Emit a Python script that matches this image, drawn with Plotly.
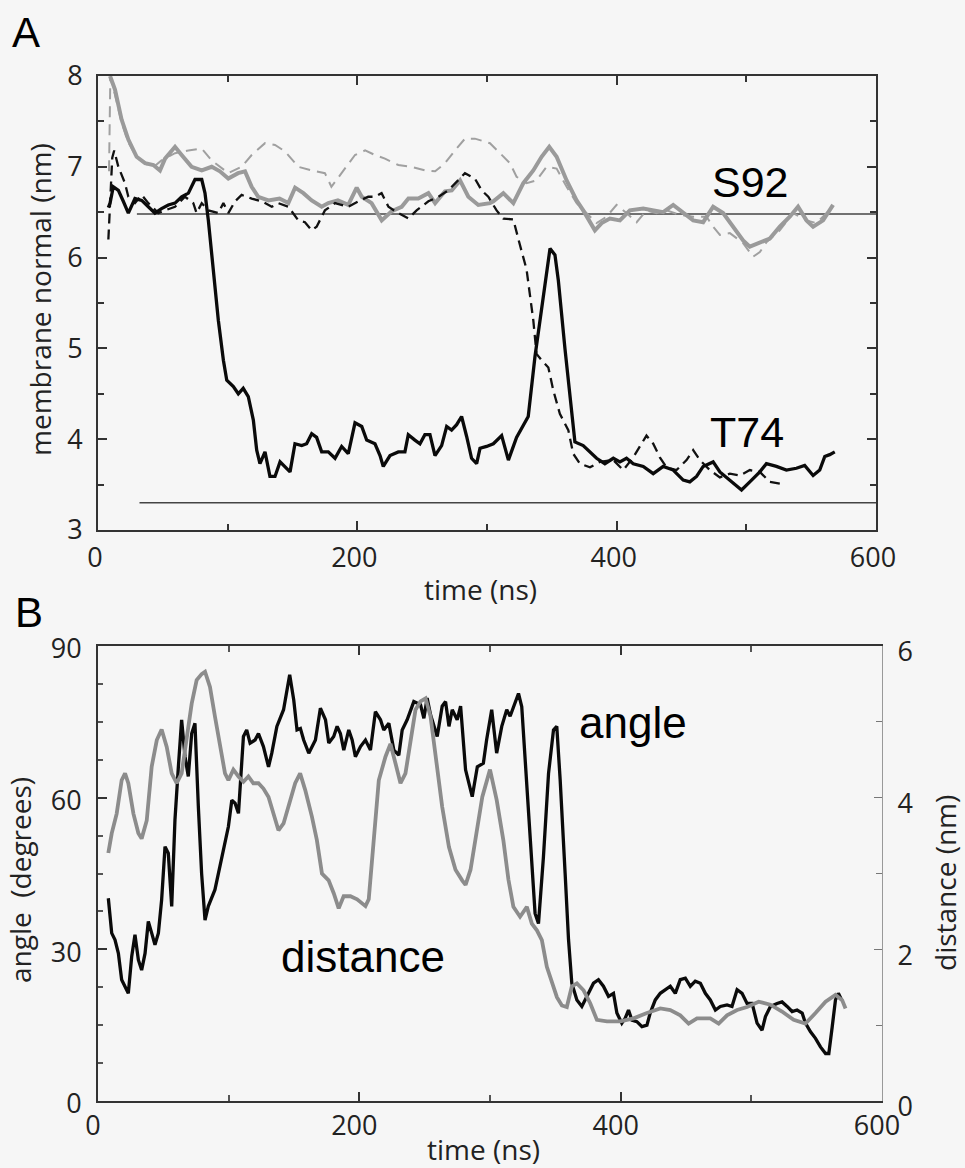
import plotly.graph_objects as go

W, H = 965, 1168

# ---------------- Panel A data (time ns, membrane normal nm) ----------------
s92_solid_t = [9.3, 13.1, 18.2, 23.4, 29.8, 36.3, 42.7, 47.8, 51.7, 59.4, 64.5, 72.2, 80, 87.7, 94, 100.5,
               108, 113.4, 118.5, 123.6, 131.4, 140, 146.8, 152, 158.4, 164.8, 172.5, 177.6, 185, 193,
               199.5, 203.4, 211, 218.8, 226.5, 234.2, 239.4, 247, 254.8, 260, 267.6, 272.8, 279.2, 285.6,
               293.3, 302.3, 304.9, 312.6, 320.3, 328, 335.7, 342.1, 348, 353.7, 361.4, 369.1, 374.2,
               379.4, 383.2, 388.4, 394.8, 402.5, 410.2, 420.5, 428.2, 435.9, 443.6, 451.3, 459, 466.7,
               474.4, 482.1, 489.8, 497.5, 502.7, 510.4, 518.1, 525.8, 533.5, 539.9, 546.4, 551.5, 559.2,
               566.9]
s92_solid_v = [8.0, 7.85, 7.52, 7.3, 7.11, 7.04, 7.02, 6.96, 7.09, 7.22, 7.13, 7.0, 6.96, 7.0, 6.95, 6.87,
               6.93, 6.95, 6.78, 6.67, 6.63, 6.65, 6.6, 6.77, 6.71, 6.63, 6.56, 6.6, 6.63, 6.58,
               6.77, 6.67, 6.6, 6.41, 6.51, 6.56, 6.65, 6.65, 6.71, 6.6, 6.73, 6.74, 6.85, 6.67,
               6.58, 6.6, 6.62, 6.71, 6.6, 6.82, 6.96, 7.11, 7.22, 7.11, 6.85, 6.63, 6.52,
               6.38, 6.3, 6.38, 6.43, 6.41, 6.52, 6.54, 6.52, 6.5, 6.58, 6.49, 6.41, 6.39,
               6.56, 6.49, 6.34, 6.19, 6.12, 6.17, 6.21, 6.34, 6.45, 6.56, 6.41, 6.34, 6.41,
               6.58]

s92_dash_t = [8.5, 9.5, 13, 18, 23, 30, 37, 43, 49, 59.4, 69.7, 80, 87.7, 100.5, 110.8, 118.5, 128.8,
              136.5, 144.2, 154.5, 164.8, 175, 180, 188, 198.2, 206, 213.6, 221.3, 231.6, 241.9, 252.2,
              260, 267.6, 275.3, 283, 290.7, 298.5, 302.3, 310, 317.7, 322.8, 330.5, 338.2, 345.9, 353.7,
              361.4, 369.1, 376.8, 384.5, 392.2, 399.9, 407.6, 415.4, 423, 430.8, 438.5, 448.8, 459,
              469.3, 474.4, 479.6, 487.3, 497.5, 505.2, 510.4, 515.5, 525.8, 536.1, 546.4, 554.1,
              561.8, 566.9]
s92_dash_v = [6.95, 7.98, 7.8, 7.5, 7.28, 7.1, 7.03, 7.0, 7.07, 7.15, 7.18, 7.2, 7.07, 6.93, 7.0, 7.13,
              7.26, 7.24, 7.17, 7.0, 6.96, 6.93, 6.78, 6.93, 7.13, 7.18, 7.13, 7.09, 7.02, 7.0, 6.96,
              6.95, 7.04, 7.18, 7.31, 7.31, 7.28, 7.26, 7.15, 7.04, 6.89, 6.82, 6.85, 7.0, 6.98,
              6.78, 6.6, 6.49, 6.38, 6.45, 6.58, 6.49, 6.39, 6.52, 6.49, 6.52, 6.47, 6.45,
              6.45, 6.34, 6.25, 6.27, 6.16, 6.01, 6.06, 6.17, 6.3, 6.49, 6.41, 6.38,
              6.49, 6.56]

t74_solid_t = [8, 9.3, 11.8, 15.7, 19.5, 23.4, 28.5, 33.7, 38.8, 43.9, 49, 54.2, 59.4, 64.5, 69.7, 74.8,
               80, 82.5, 85.1, 89, 92.8, 96.7, 99.3, 104.4, 108.2, 112, 115.9, 119.8, 122.4, 124.9,
               128.8, 132.6, 136.5, 140.4, 144.2, 148.1, 151.9, 157.1, 160.9, 164.8, 168.6, 172.5,
               177.6, 182.8, 187.9, 193, 198.2, 203.4, 207.2, 213.6, 217.5, 220, 225.2, 231.6, 236.7,
               239.3, 244.4, 248.3, 252.1, 256, 259.9, 265, 268.9, 272.7, 276.6, 280.4, 284.3, 288.1,
               292, 294.6, 299.7, 304.9, 311.3, 316.5, 322.8, 331.8, 337, 342.1, 346, 348.6, 352.4,
               355, 360.1, 367.8, 374.2, 379.4, 384.5, 390.9, 397.4, 402.5, 407.6, 412.8, 420.5,
               428.2, 435.9, 443.6, 451.3, 456.4, 461.6, 466.7, 474.4, 479.6, 487.3, 496.3, 502.7,
               510.4, 515.5, 523.2, 530.9, 538.6, 545, 551.5, 556.6, 560.5, 564.3, 568.2]
t74_solid_v = [6.55, 6.6, 6.78, 6.74, 6.62, 6.49, 6.65, 6.63, 6.56, 6.49, 6.54, 6.58, 6.6, 6.67, 6.71, 6.86,
               6.86, 6.71, 6.41, 5.86, 5.31, 4.87, 4.65, 4.58, 4.5, 4.56, 4.47, 4.21, 3.88, 3.73,
               3.86, 3.59, 3.59, 3.75, 3.69, 3.64, 3.95, 3.93, 3.95, 4.06, 4.02, 3.86,
               3.86, 3.79, 3.92, 3.84, 4.18, 4.14, 3.99, 3.95, 3.82, 3.7, 3.82, 3.86, 3.86,
               4.05, 3.99, 3.95, 4.05, 4.05, 3.82, 3.93, 4.14, 4.1, 4.16, 4.25, 4.03, 3.79,
               3.73, 3.9, 3.92, 3.95, 4.04, 3.77, 4.02, 4.25, 4.91, 5.46, 5.85, 6.1, 6.03,
               5.75, 5.0, 3.97, 3.93, 3.86, 3.79, 3.73, 3.79, 3.75, 3.79, 3.73, 3.7,
               3.62, 3.7, 3.66, 3.55, 3.53, 3.59, 3.7, 3.75, 3.64, 3.55, 3.44, 3.53,
               3.64, 3.73, 3.7, 3.66, 3.68, 3.71, 3.6, 3.66, 3.81, 3.83, 3.86]

t74_dash_t = [8, 11, 12.5, 15.7, 20.8, 23.4, 28.5, 33.7, 38.8, 46.5, 51.7, 59.4, 67.1, 73.5, 76, 80, 85.1,
              92.8, 96.7, 100.5, 105.7, 110.8, 118.5, 126.2, 134, 139, 146.8, 154.5, 159.6, 164.8, 168.6,
              175, 182.8, 193, 200.7, 208.4, 213.6, 218.7, 224, 231.6, 239.4, 245.7, 254.8, 262.5, 270.2,
              277.9, 283, 290.7, 295.9, 301, 307.4, 312.6, 320.3, 325, 330.5, 335.7, 338.2, 342.1,
              347.3, 351.1, 356.2, 362.7, 366.5, 371.7, 379.4, 387.1, 397.4, 405.1, 412.8, 417.9, 423,
              428.2, 433.3, 438.5, 446.2, 453.9, 459, 464.2, 471.9, 479.6, 487.3, 495, 502.7, 510.4,
              518.1, 525.8]
t74_dash_v = [6.2, 7.1, 7.18, 7.0, 6.82, 6.67, 6.6, 6.69, 6.6, 6.49, 6.52, 6.56, 6.67, 6.6, 6.49, 6.6, 6.52,
              6.49, 6.6, 6.49, 6.62, 6.69, 6.65, 6.62, 6.56, 6.6, 6.56, 6.41, 6.39, 6.3, 6.34,
              6.52, 6.6, 6.56, 6.62, 6.67, 6.67, 6.71, 6.56, 6.49, 6.43, 6.52, 6.62, 6.67, 6.74,
              6.85, 6.93, 6.87, 6.74, 6.67, 6.52, 6.43, 6.42, 6.16, 5.87, 5.31, 4.94, 4.87,
              4.79, 4.54, 4.28, 4.1, 3.84, 3.73, 3.69, 3.75, 3.77, 3.66, 3.8, 3.92, 4.04,
              3.95, 3.8, 3.69, 3.66, 3.77, 3.88, 3.77, 3.66, 3.58, 3.62, 3.6, 3.66, 3.64,
              3.53, 3.51]

ref_s92_t = [30, 600]
ref_s92_v = [6.48, 6.48]
ref_t74_t = [32, 600]
ref_t74_v = [3.3, 3.3]

# ---------------- Panel B data ----------------
angle_t = [7.9, 10.5, 13, 15.6, 18.1, 21.9, 23.2, 25.8, 28.3, 30.9, 33.4, 36, 38.5, 41.1, 43.6, 46.2, 48.7,
           51.3, 53.8, 56.4, 58.9, 61.5, 64, 66.6, 69.1, 71.7, 74.2, 76.8, 79.3, 81.9, 84.4, 89.5, 93.4,
           97.2, 99.8, 102.4, 104.9, 107.5, 108.7, 111.3, 113.8, 116.4, 120.2, 122.8, 126.6, 130.5, 133,
           136.9, 142, 144.6, 146.7, 149.8, 152.3, 154.9, 157.4, 161.3, 166.4, 170.2, 174.1, 176.6,
           180.4, 183, 185.5, 188.1, 191.9, 194.5, 197, 200.9, 204.7, 208.5, 212.3, 216.2, 218.7,
           222.6, 226.4, 230.2, 232.8, 236.6, 241.7, 246.8, 249.4, 251.9, 254.5, 259.6, 263.4, 266,
           268.6, 271.1, 274.9, 277.5, 281.3, 286.4, 290.3, 294.9, 297.4, 301.3, 305.1, 309, 312.8,
           315.4, 317.9, 321.8, 324.3, 326.9, 330.7, 334.5, 337.1, 340.9, 344.8, 348.6, 351.1, 353.7,
           357.5, 360.1, 362.6, 366.5, 370.3, 374.1, 379.2, 383, 386.8, 390.7, 394.5, 397.1, 400.9,
           403.5, 406, 408.6, 412.4, 416.3, 420.1, 422.6, 426.5, 430.3, 434.1, 438, 441.8, 445.6,
           449.5, 453.3, 457.1, 461, 464.8, 468.6, 472.5, 476.3, 481.4, 485.2, 489.1, 492.9, 496.7,
           500.6, 504.4, 508.2, 510.8, 514.6, 519.7, 523.5, 527.4, 531.2, 535, 538.9, 541.4, 545.3,
           549.1, 552.9, 556.8, 559.3, 561.9, 564.4, 566.6, 569.1]
angle_deg = [40.1, 33.2, 31.9, 29.2, 24, 22, 21.3, 28.6, 32.9, 27.9, 25.9, 29.2, 35.5, 33.2, 30.9, 33.2, 39.8,
             50.3, 49, 38.5, 55.6, 66.1, 75.4, 68.1, 64.2, 72.7, 74.7, 58.2, 45, 35.8, 38.5, 41.8, 46.4,
             51.6, 54.3, 59.5, 58.9, 56.9, 62.2, 72.1, 73.4, 70.8, 71.4, 72.7, 70.1, 66.1, 68.8,
             74.1, 77.4, 81.3, 84.3, 79.3, 73.4, 73.7, 71.4, 68.8, 71.4, 77.7, 75.4, 70.8,
             72.1, 74.1, 72.7, 69.4, 73.4, 71.4, 68.1, 70.1, 71.4, 69.4, 77, 75.4, 73.4,
             74.7, 69.4, 68.4, 73.4, 75.4, 79, 78.4, 75.7, 79.7, 76.4, 72.1, 78.1, 79,
             74.1, 77.4, 75.4, 78.1, 65.5, 60.2, 66.1, 66.8, 71.4, 77.4, 68.8, 74.1, 77.4,
             76.1, 77.7, 80.6, 78, 68.1, 51.6, 37.1, 35.1, 48.3, 64.8, 73.4, 74.1, 63.5,
             45, 31.9, 23.3, 20, 18.7, 20.7, 23.3, 24, 22.7, 20.7, 21.3, 17.4, 15.4,
             16.4, 18, 16, 15.7, 14.7, 15, 17.4, 20, 21.3, 22, 22.7, 21.3, 24,
             24.3, 22.7, 23.7, 23.3, 21.3, 20, 18, 18.7, 19, 18.7, 22, 21.3, 19.3,
             19.3, 15.4, 14, 16.7, 18.7, 19.3, 19.6, 18.7, 17.7, 18, 17.4, 15.4, 13.7,
             12.4, 10.7, 9.4, 9.4, 14.7, 20, 21.3, 20]

dist_t = [7.9, 10.5, 14.3, 18.1, 20.7, 23.2, 27.1, 30.9, 33.4, 37.3, 41.1, 45, 48.7, 52.6, 56.4, 60.2, 64,
          67.9, 71.7, 75.5, 79.3, 81.9, 85.7, 89.5, 93.4, 97.2, 99.8, 103.6, 107.5, 111.3, 115.1, 118.9,
          122.8, 126.6, 130.5, 134.3, 138.1, 142, 145.8, 150.9, 154.7, 158.6, 163.7, 167.5, 171.4,
          176.5, 180.4, 184.2, 188, 193.2, 198.3, 204.7, 207.2, 211.1, 214.9, 220, 223.8, 227.7,
          231.5, 235.3, 239.2, 243, 246.8, 250.7, 254.5, 258.4, 263.4, 268.6, 273.6, 278.7, 281.3,
          285.1, 289, 294.1, 300, 305.1, 310.2, 314.1, 317.9, 323, 328.2, 332, 335.9, 339.7, 343.5,
          347.4, 351.2, 355, 358.8, 362.6, 366.5, 371.6, 376.7, 381.8, 389.5, 399.7, 409.9, 420.1,
          430.3, 438, 445.6, 452, 458.4, 468.6, 475, 481.4, 489.1, 496.7, 505.6, 514.6, 523.5, 532.4,
          541.4, 549.1, 556.8, 564.4, 569.5, 572.1]
dist_nm = [3.27, 3.53, 3.79, 4.23, 4.32, 4.19, 3.79, 3.53, 3.46, 3.7, 4.41, 4.76, 4.9, 4.67, 4.32, 4.19, 4.32,
           4.76, 5.24, 5.55, 5.63, 5.66, 5.46, 5.07, 4.67, 4.32, 4.23, 4.37, 4.28, 4.21, 4.28, 4.19,
           4.19, 4.12, 4.01, 3.79, 3.57, 3.66, 3.88, 4.19, 4.32, 4.1, 3.75, 3.44, 3.0,
           2.91, 2.74, 2.54, 2.7, 2.7, 2.66, 2.57, 2.66, 3.44, 4.23, 4.54, 4.71, 4.45,
           4.19, 4.32, 4.76, 5.16, 5.27, 5.31, 5.07, 4.54, 3.88, 3.35, 3.05, 2.91, 2.85,
           3.05, 3.44, 4.01, 4.37, 3.97, 3.44, 2.92, 2.56, 2.43, 2.56, 2.34, 2.25, 2.12, 1.77,
           1.55, 1.37, 1.26, 1.24, 1.51, 1.55, 1.46, 1.29, 1.07, 1.05, 1.05, 1.09, 1.16,
           1.22, 1.2, 1.13, 1.02, 1.09, 1.09, 1.02, 1.13, 1.2, 1.24, 1.31, 1.27, 1.18, 1.07,
           1.02, 1.16, 1.31, 1.4, 1.33, 1.22]

# ---------------- figure ----------------
BG = "#f6f6f6"
TICKFONT = dict(family="Open Sans", size=27, color="#222")
TITLEFONT = dict(family="Open Sans", size=28, color="#222")


def lab(size):
    return dict(family="Liberation Sans", size=size, color="#000")


def px(x):
    return x / W


def py(y):
    return 1 - y / H


fig = go.Figure()

fig.add_trace(go.Scatter(x=ref_s92_t, y=ref_s92_v, mode="lines", line=dict(color="#444", width=1.5),
                         xaxis="x", yaxis="y", showlegend=False))
fig.add_trace(go.Scatter(x=ref_t74_t, y=ref_t74_v, mode="lines", line=dict(color="#444", width=1.5),
                         xaxis="x", yaxis="y", showlegend=False))
fig.add_trace(go.Scatter(x=s92_dash_t, y=s92_dash_v, mode="lines",
                         line=dict(color="#a0a0a0", width=2, dash="11px,7px"),
                         xaxis="x", yaxis="y", showlegend=False))
fig.add_trace(go.Scatter(x=s92_solid_t, y=s92_solid_v, mode="lines",
                         line=dict(color="#9a9a9a", width=4),
                         xaxis="x", yaxis="y", showlegend=False))
fig.add_trace(go.Scatter(x=t74_dash_t, y=t74_dash_v, mode="lines",
                         line=dict(color="#111", width=2.3, dash="10px,6px"),
                         xaxis="x", yaxis="y", showlegend=False))
fig.add_trace(go.Scatter(x=t74_solid_t, y=t74_solid_v, mode="lines",
                         line=dict(color="#0a0a0a", width=3.3),
                         xaxis="x", yaxis="y", showlegend=False))

fig.add_trace(go.Scatter(x=dist_t, y=dist_nm, mode="lines",
                         line=dict(color="#8c8c8c", width=3.8),
                         xaxis="x2", yaxis="y3", showlegend=False))
fig.add_trace(go.Scatter(x=angle_t, y=angle_deg, mode="lines",
                         line=dict(color="#0a0a0a", width=3.3),
                         xaxis="x2", yaxis="y2", showlegend=False))

axis_common = dict(showgrid=False, zeroline=False, ticks="inside", tickfont=TICKFONT, automargin=False,
                   linecolor="#333", linewidth=2, tickcolor="#333", tickwidth=1.5)

fig.update_layout(
    width=W, height=H, paper_bgcolor=BG, plot_bgcolor=BG,
    margin=dict(l=0, r=0, t=0, b=0, pad=0, autoexpand=False),
    xaxis=dict(domain=[px(98), px(876)], range=[0, 600], anchor="y", tickvals=[0, 200, 400, 600],
               ticklen=9, showline=True, mirror="ticks", ticklabelshift=-3, ticklabelstandoff=3,
               minor=dict(tickvals=[100, 300, 500], ticklen=6, ticks="inside", tickcolor="#333"),
               **axis_common),
    yaxis=dict(domain=[py(530), py(76)], range=[3, 8], anchor="x", tickvals=[3, 4, 5, 6, 7, 8],
               ticklen=9, showline=True, mirror="ticks", ticklabelstandoff=8,
               minor=dict(tickvals=[3.5, 4.5, 5.5, 6.5, 7.5], ticklen=6, ticks="inside", tickcolor="#333"),
               **axis_common),
    xaxis2=dict(domain=[px(98), px(882)], range=[0, 600], anchor="y2", tickvals=[0, 200, 400, 600],
                ticklen=9, showline=True, mirror="ticks", ticklabelshift=-5,
                minor=dict(tickvals=[100, 300, 500], ticklen=6, ticks="inside", tickcolor="#555"),
                **axis_common),
    yaxis2=dict(domain=[py(1101), py(646)], range=[0, 90], anchor="x2", tickvals=[0, 30, 60, 90],
                ticklen=9, showline=True, mirror=False, ticklabelstandoff=9, ticklabelshift=3,
                minor=dict(tickvals=[7.5, 15, 22.5, 37.5, 45, 52.5, 67.5, 75, 82.5], ticklen=5,
                           ticks="inside", tickcolor="#555"),
                **axis_common),
    yaxis3=dict(range=[0, 6], overlaying="y2", side="right", anchor="x2", tickvals=[0, 2, 4, 6],
                showgrid=False, zeroline=False, ticks="inside", ticklen=8, tickcolor="#777",
                tickfont=TICKFONT, showline=True, linecolor="#999", linewidth=1, automargin=False,
                ticklabelshift=6, ticklabelstandoff=9,
                minor=dict(tickvals=[1, 3, 5], ticklen=6, ticks="inside", tickcolor="#777")),
)

annotations = [
    dict(text="A", x=px(10), y=py(33), xanchor="left", yanchor="middle", font=lab(42)),
    dict(text="B", x=px(13), y=py(612), xanchor="left", yanchor="middle", font=lab(42)),
    dict(text="S92", x=px(710), y=py(182), xanchor="left", yanchor="middle", font=lab(43)),
    dict(text="T74", x=px(708), y=py(432), xanchor="left", yanchor="middle", font=lab(43)),
    dict(text="angle", x=px(577), y=py(722), xanchor="left", yanchor="middle", font=lab(44)),
    dict(text="distance", x=px(279), y=py(956), xanchor="left", yanchor="middle", font=lab(44)),
    dict(text="membrane normal (nm)", x=px(40), y=py(300), xanchor="center", yanchor="middle",
         textangle=-90, font=TITLEFONT),
    dict(text="time (ns)", x=px(480), y=py(589), xanchor="center", yanchor="middle", font=TITLEFONT),
    dict(text="angle  (degrees)", x=px(20), y=py(880), xanchor="center", yanchor="middle",
         textangle=-90, font=TITLEFONT),
    dict(text="distance (nm)", x=px(945), y=py(883), xanchor="center", yanchor="middle",
         textangle=-90, font=TITLEFONT),
    dict(text="time (ns)", x=px(483), y=py(1149), xanchor="center", yanchor="middle", font=TITLEFONT),
]
for a in annotations:
    a.update(xref="paper", yref="paper", showarrow=False)
fig.update_layout(annotations=annotations)

fig.write_html("out.html", config={"displayModeBar": False},
               post_script="document.body.style.margin='0';document.body.style.padding='0';")
